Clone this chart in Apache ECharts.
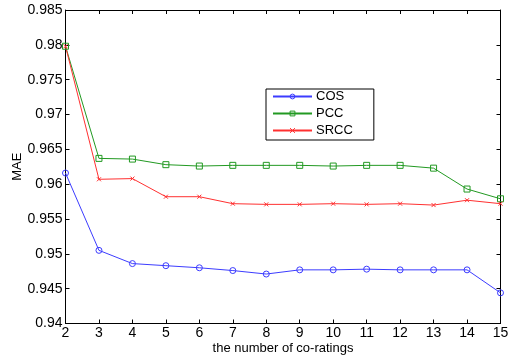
<!DOCTYPE html>
<html>
<head>
<meta charset="utf-8">
<script src="https://cdn.jsdelivr.net/npm/echarts@6/dist/echarts.min.js"></script>
<style>
  html, body { margin: 0; padding: 0; background: #fff; }
  #chart { width: 514px; height: 357px; }
</style>
</head>
<body>
<div id="chart"></div>
<script>
const coRatings = [2, 3, 4, 5, 6, 7, 8, 9, 10, 11, 12, 13, 14, 15];
const cosMae = [0.9616, 0.9505, 0.9486, 0.9483, 0.9480, 0.9476, 0.9471, 0.9477, 0.9477, 0.9478, 0.9477, 0.9477, 0.9477, 0.9444];
const pccMae = [0.9798, 0.9637, 0.9636, 0.9628, 0.9626, 0.9627, 0.9627, 0.9627, 0.9626, 0.9627, 0.9627, 0.9623, 0.9593, 0.9579];
const srccMae = [0.9798, 0.9607, 0.9608, 0.9582, 0.9582, 0.9572, 0.9571, 0.9571, 0.9572, 0.9571, 0.9572, 0.9570, 0.9577, 0.9572];

const seriesNames = ["COS", "PCC", "SRCC"];
const seriesColors = ["#3c3cff", "#229922", "#ff3030"];

const font = "Liberation Sans, Arial, sans-serif";
const chart = echarts.init(document.getElementById("chart"), null, { renderer: "canvas" });

const pairs = (ys) => coRatings.map((x, i) => [x, ys[i]]);
const crossPath = "path://M0,0L10,10M10,0L0,10";
const hollow = (color) => ({ color: "rgba(255,255,255,0)", borderColor: color, borderWidth: 1 });

const lineSeries = (name, ys, color, symbol, size) => ({
  name,
  type: "line",
  data: pairs(ys),
  symbol,
  symbolSize: size,
  showSymbol: true,
  lineStyle: { color, width: 1 },
  itemStyle: hollow(color),
  emphasis: { disabled: true },
  animation: false,
});

const option = {
  backgroundColor: "#fff",
  grid: { left: 65.5, right: 13.5, top: 10, bottom: 33.5, outerBoundsMode: "none" },
  legend: {
    orient: "vertical",
    left: 266,
    top: 89,
    padding: [1, 21, 3, 6],
    itemWidth: 39,
    itemHeight: 6,
    itemGap: 4,
    borderColor: "#000",
    borderWidth: 1,
    borderRadius: 0,
    backgroundColor: "#fff",
    textStyle: { fontFamily: font, fontSize: 13, color: "#000", padding: [0, 0, 0, -1] },
    data: seriesNames.map((name, i) => ({ name, itemStyle: hollow(seriesColors[i]) })),
  },
  xAxis: [
    {
      type: "value",
      min: 2,
      max: 15,
      interval: 1,
      name: "the number of co-ratings",
      nameLocation: "middle",
      nameGap: 18,
      nameMoveOverlap: false,
      nameTextStyle: { fontFamily: font, fontSize: 13, color: "#000" },
      axisLine: { lineStyle: { color: "#000", width: 1 } },
      axisTick: { inside: true, length: 4, lineStyle: { color: "#000" } },
      axisLabel: { fontFamily: font, fontSize: 14, color: "#000", margin: 3 },
      splitLine: { show: false },
    },
    {
      type: "value",
      position: "top",
      min: 2,
      max: 15,
      interval: 1,
      axisLine: { lineStyle: { color: "#000", width: 1 } },
      axisTick: { inside: true, length: 4, lineStyle: { color: "#000" } },
      axisLabel: { show: false },
      splitLine: { show: false },
    },
  ],
  yAxis: [
    {
      type: "value",
      min: 0.94,
      max: 0.985,
      interval: 0.005,
      name: "MAE",
      nameLocation: "middle",
      nameGap: 42,
      nameMoveOverlap: false,
      nameTextStyle: { fontFamily: font, fontSize: 13, color: "#000" },
      axisLine: { show: true, lineStyle: { color: "#000", width: 1 } },
      axisTick: { show: true, inside: true, length: 4, lineStyle: { color: "#000" } },
      axisLabel: { fontFamily: font, fontSize: 14, color: "#000", margin: 3 },
      splitLine: { show: false },
    },
    {
      type: "value",
      position: "right",
      min: 0.94,
      max: 0.985,
      interval: 0.005,
      axisLine: { show: true, lineStyle: { color: "#000", width: 1 } },
      axisTick: { show: true, inside: true, length: 4, lineStyle: { color: "#000" } },
      axisLabel: { show: false },
      splitLine: { show: false },
    },
  ],
  series: [
    lineSeries("COS", cosMae, seriesColors[0], "circle", 6),
    lineSeries("PCC", pccMae, seriesColors[1], "rect", 6),
    lineSeries("SRCC", srccMae, seriesColors[2], crossPath, 4),
  ],
};

chart.setOption(option);
</script>
</body>
</html>
